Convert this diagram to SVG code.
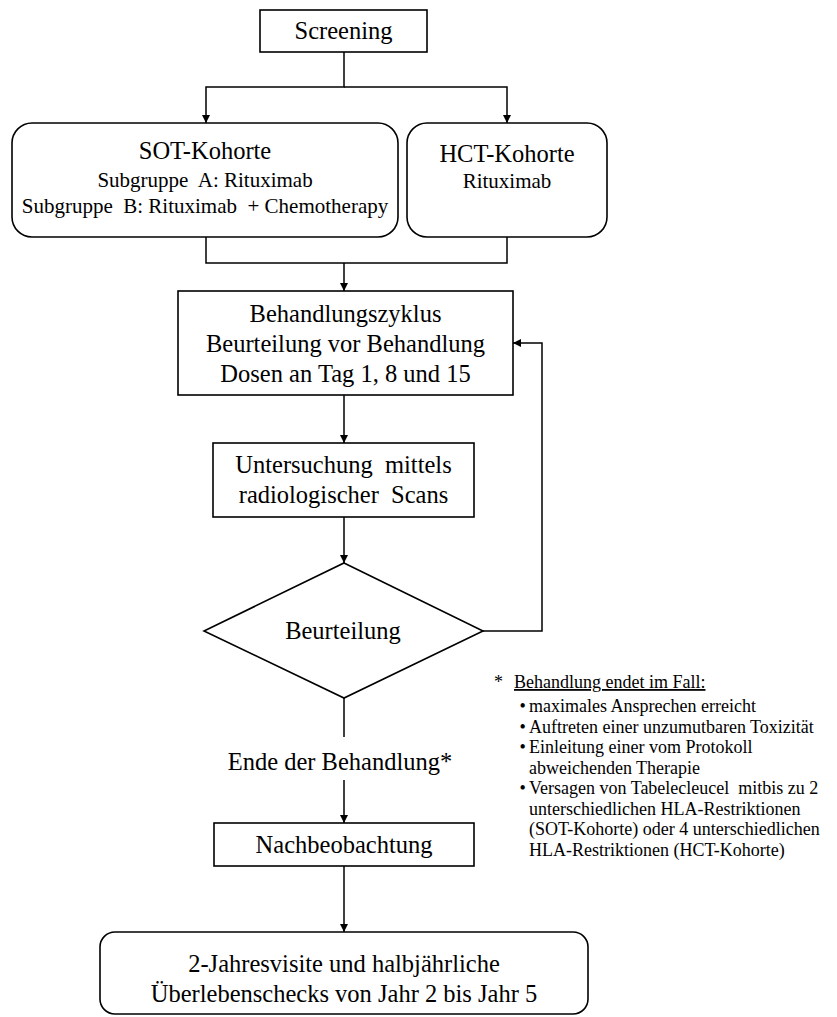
<svg xmlns="http://www.w3.org/2000/svg" width="837" height="1017" viewBox="0 0 837 1017">
<style>
text{font-family:"Liberation Serif","Times New Roman",serif;fill:#000}
.m{font-size:24.5px;text-anchor:middle}
.s{font-size:21px;text-anchor:middle}
.f{font-size:18px}
.box{fill:#fff;stroke:#000;stroke-width:1.6}
.ln{fill:none;stroke:#000;stroke-width:1.5}
</style>
<defs>
<marker id="ah" viewBox="0 0 10 10" refX="10" refY="5" markerWidth="8" markerHeight="8" markerUnits="userSpaceOnUse" orient="auto">
<path d="M0,0 L10,5 L0,10 z" fill="#000"/>
</marker>
</defs>
<g id="connectors">
<path class="ln" d="M344,52 V87 H206 V123" marker-end="url(#ah)"/>
<path class="ln" d="M344,87 H507 V123" marker-end="url(#ah)"/>
<path class="ln" d="M206,237 V263 H507 V237"/>
<path class="ln" d="M344,263 V291" marker-end="url(#ah)"/>
<path class="ln" d="M344,395 V443" marker-end="url(#ah)"/>
<path class="ln" d="M344,517 V563" marker-end="url(#ah)"/>
<path class="ln" d="M483,631 H542 V343 H513" marker-end="url(#ah)"/>
<path class="ln" d="M344,698 V737"/>
<path class="ln" d="M344,780 V823" marker-end="url(#ah)"/>
<path class="ln" d="M344,866 V932" marker-end="url(#ah)"/>
</g>
<g id="screening">
<rect class="box" x="260" y="10" width="167" height="42"/>
<text class="m" x="343.5" y="39">Screening</text>
</g>
<g id="sot">
<rect class="box" x="12" y="123" width="386" height="114" rx="20" ry="20"/>
<text class="m" x="205" y="159">SOT-Kohorte</text>
<text class="s" x="205" y="187" xml:space="preserve">Subgruppe  A: Rituximab</text>
<text class="s" x="205" y="213" xml:space="preserve">Subgruppe  B: Rituximab  + Chemotherapy</text>
</g>
<g id="hct">
<rect class="box" x="407" y="123" width="200" height="114" rx="20" ry="20"/>
<text class="m" x="507" y="162">HCT-Kohorte</text>
<text class="s" x="507" y="188">Rituximab</text>
</g>
<g id="zyklus">
<rect class="box" x="178" y="291" width="335" height="104"/>
<text class="m" x="345.5" y="322">Behandlungszyklus</text>
<text class="m" x="345.5" y="352">Beurteilung vor Behandlung</text>
<text class="m" x="345.5" y="382">Dosen an Tag 1, 8 und 15</text>
</g>
<g id="scan">
<rect class="box" x="213" y="443" width="261" height="74"/>
<text class="m" x="343.5" y="473" xml:space="preserve">Untersuchung  mittels</text>
<text class="m" x="343.5" y="503" xml:space="preserve">radiologischer  Scans</text>
</g>
<g id="beurteilung">
<polygon class="box" points="344,563 483,631 344,698 204,631"/>
<text class="m" x="343" y="639">Beurteilung</text>
</g>
<g id="ende">
<text class="m" x="340" y="770">Ende der Behandlung*</text>
</g>
<g id="nachbeobachtung">
<rect class="box" x="214" y="823" width="260" height="43"/>
<text class="m" x="344" y="853">Nachbeobachtung</text>
</g>
<g id="final">
<rect class="box" x="100" y="932" width="488" height="82" rx="15" ry="15"/>
<text class="m" x="344" y="972">2-Jahresvisite und halbjährliche</text>
<text class="m" x="344" y="1002">Überlebenschecks von Jahr 2 bis Jahr 5</text>
</g>
<g id="footnote">
<text class="f" x="494" y="688">*</text>
<text class="f" x="514" y="688" text-decoration="underline">Behandlung endet im Fall:</text>
<text class="f" x="519.5" y="712">•</text>
<text class="f" x="529" y="712">maximales Ansprechen erreicht</text>
<text class="f" x="519.5" y="732.5">•</text>
<text class="f" x="529" y="732.5">Auftreten einer unzumutbaren Toxizität</text>
<text class="f" x="519.5" y="753">•</text>
<text class="f" x="529" y="753">Einleitung einer vom Protokoll</text>
<text class="f" x="529" y="773.5">abweichenden Therapie</text>
<text class="f" x="519.5" y="794">•</text>
<text class="f" x="529" y="794" xml:space="preserve">Versagen von Tabelecleucel  mitbis zu 2</text>
<text class="f" x="529" y="814.5">unterschiedlichen HLA-Restriktionen</text>
<text class="f" x="529" y="835">(SOT-Kohorte) oder 4 unterschiedlichen</text>
<text class="f" x="529" y="855.5">HLA-Restriktionen (HCT-Kohorte)</text>
</g>
</svg>
